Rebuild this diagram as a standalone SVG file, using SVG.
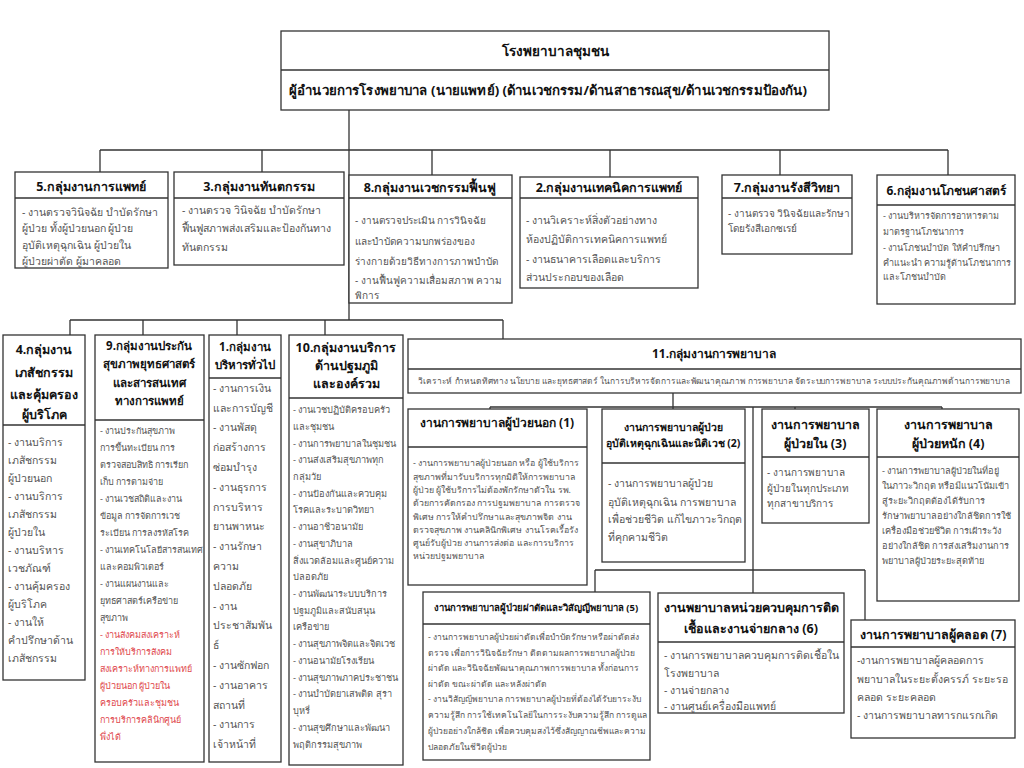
<svg xmlns="http://www.w3.org/2000/svg" width="1024" height="768" viewBox="0 0 1024 768">
<style>
.bx{fill:#fff;stroke:#333;stroke-width:1.3}
.dv{stroke:#333;stroke-width:1.3}
.cn{stroke:#333;stroke-width:1.3;fill:none}
text{font-family:Tahoma,"Noto Sans","DejaVu Sans",sans-serif}
.h{font-weight:bold;fill:#111;text-anchor:middle}
.b{fill:#555}
.r{fill:#e0474c}
</style>
<rect width="1024" height="768" fill="#fff"/>
<g id="connectors">
<path class="cn" d="M349 110V320M100 150H948M100 150V172M262 150V172M432 150V175M610 150V177M780 150V175M948 150V175"/>
<path class="cn" d="M70 320H503M70 320V335M143 320V335M237 320V335M325 320V335M503 320V340"/>
<path class="cn" d="M673 393V409M490 407H942M490 407V409M795 407V409M942 407V409M753 407V570M595 570H865M595 570V592M753 570V593M865 570V620"/>
</g>
<g id="top">
<rect class="bx" x="281" y="31" width="548" height="79"/>
<line class="dv" x1="281" y1="70" x2="829" y2="70"/>
<text class="h" x="555" y="56" font-size="13.5">โรงพยาบาลชุมชน</text>
<text class="h" x="548" y="95" font-size="13" textLength="518" lengthAdjust="spacingAndGlyphs">ผู้อำนวยการโรงพยาบาล (นายแพทย์) (ด้านเวชกรรม/ด้านสาธารณสุข/ด้านเวชกรรมป้องกัน)</text>
</g>
<g id="g5">
<rect class="bx" x="15" y="172" width="153" height="96"/>
<line class="dv" x1="15" y1="198" x2="168" y2="198"/>
<text class="h" x="91" y="191" font-size="12.5">5.กลุ่มงานการแพทย์</text>
<text class="b" font-size="10.5"><tspan x="22" y="216">- งานตรวจวินิจฉัย บำบัดรักษา</tspan><tspan x="22" y="232">ผู้ป่วย ทั้งผู้ป่วยนอก ผู้ป่วย</tspan><tspan x="22" y="249">อุบัติเหตุฉุกเฉิน ผู้ป่วยใน</tspan><tspan x="22" y="265">ผู้ป่วยผ่าตัด ผู้มาคลอด</tspan></text>
</g>
<g id="g3">
<rect class="bx" x="174" y="172" width="170" height="93"/>
<line class="dv" x1="174" y1="198" x2="344" y2="198"/>
<text class="h" x="259" y="191" font-size="12.5">3.กลุ่มงานทันตกรรม</text>
<text class="b" font-size="10.5"><tspan x="182" y="214">- งานตรวจ วินิจฉัย บำบัดรักษา</tspan><tspan x="182" y="232">ฟื้นฟูสภาพส่งเสริมและป้องกันทาง</tspan><tspan x="182" y="251">ทันตกรรม</tspan></text>
</g>
<g id="g8">
<rect class="bx" x="349" y="175" width="163" height="128"/>
<line class="dv" x1="349" y1="198" x2="512" y2="198"/>
<text class="h" x="430" y="192" font-size="12.5">8.กลุ่มงานเวชกรรมฟื้นฟู</text>
<text class="b" font-size="10"><tspan x="355" y="224">- งานตรวจประเมิน การวินิจฉัย</tspan><tspan x="355" y="245">และบำบัดความบกพร่องของ</tspan><tspan x="355" y="265">ร่างกายด้วยวิธีทางการภาพบำบัด</tspan><tspan x="355" y="284">- งานฟื้นฟูความเสื่อมสภาพ ความ</tspan><tspan x="355" y="299">พิการ</tspan></text>
</g>
<g id="g2">
<rect class="bx" x="520" y="177" width="178" height="111"/>
<line class="dv" x1="520" y1="198" x2="698" y2="198"/>
<text class="h" x="609" y="192" font-size="12.5">2.กลุ่มงานเทคนิคการแพทย์</text>
<text class="b" font-size="10.5"><tspan x="526" y="224">- งานวิเคราะห์สิ่งตัวอย่างทาง</tspan><tspan x="526" y="243">ห้องปฏิบัติการเทคนิคการแพทย์</tspan><tspan x="526" y="263">- งานธนาคารเลือดและบริการ</tspan><tspan x="526" y="281">ส่วนประกอบของเลือด</tspan></text>
</g>
<g id="g7">
<rect class="bx" x="722" y="175" width="130" height="79"/>
<line class="dv" x1="722" y1="198" x2="852" y2="198"/>
<text class="h" x="787" y="192" font-size="12.5">7.กลุ่มงานรังสีวิทยา</text>
<text class="b" font-size="10"><tspan x="728" y="217">- งานตรวจ วินิจฉัยและรักษา</tspan><tspan x="728" y="232">โดยรังสีเอกซเรย์</tspan></text>
</g>
<g id="g6">
<rect class="bx" x="877" y="175" width="138" height="129"/>
<line class="dv" x1="877" y1="205" x2="1015" y2="205"/>
<text class="h" x="946" y="195" font-size="12">6.กลุ่มงานโภชนศาสตร์</text>
<text class="b" font-size="9"><tspan x="883" y="219">- งานบริหารจัดการอาหารตาม</tspan><tspan x="883" y="235">มาตรฐานโภชนาการ</tspan><tspan x="883" y="251">- งานโภชนบำบัด ให้คำปรึกษา</tspan><tspan x="883" y="266">คำแนะนำ ความรู้ด้านโภชนาการ</tspan><tspan x="883" y="280">และโภชนบำบัด</tspan></text>
</g>
<g id="g4">
<rect class="bx" x="3" y="335" width="82" height="345"/>
<line class="dv" x1="3" y1="425" x2="85" y2="425"/>
<text class="h" font-size="12.5"><tspan x="44" y="354">4.กลุ่มงาน</tspan><tspan x="44" y="377">เภสัชกรรม</tspan><tspan x="44" y="399">และคุ้มครอง</tspan><tspan x="44" y="419">ผู้บริโภค</tspan></text>
<text class="b" font-size="10.5"><tspan x="8" y="446">- งานบริการ</tspan><tspan x="8" y="464">เภสัชกรรม</tspan><tspan x="8" y="482">ผู้ป่วยนอก</tspan><tspan x="8" y="500">- งานบริการ</tspan><tspan x="8" y="518">เภสัชกรรม</tspan><tspan x="8" y="536">ผู้ป่วยใน</tspan><tspan x="8" y="554">- งานบริหาร</tspan><tspan x="8" y="572">เวชภัณฑ์</tspan><tspan x="8" y="590">- งานคุ้มครอง</tspan><tspan x="8" y="608">ผู้บริโภค</tspan><tspan x="8" y="626">- งานให้</tspan><tspan x="8" y="644">คำปรึกษาด้าน</tspan><tspan x="8" y="662">เภสัชกรรม</tspan></text>
</g>
<g id="g9">
<rect class="bx" x="95" y="335" width="109" height="427"/>
<line class="dv" x1="95" y1="420" x2="204" y2="420"/>
<text class="h" font-size="11.5"><tspan x="149" y="350">9.กลุ่มงานประกัน</tspan><tspan x="149" y="368">สุขภาพยุทธศาสตร์</tspan><tspan x="149" y="387">และสารสนเทศ</tspan><tspan x="149" y="405">ทางการแพทย์</tspan></text>
<text class="b" font-size="9"><tspan x="100" y="434">- งานประกันสุขภาพ</tspan><tspan x="100" y="451">การขึ้นทะเบียน การ</tspan><tspan x="100" y="468">ตรวจสอบสิทธิ การเรียก</tspan><tspan x="100" y="485">เก็บ การตามจ่าย</tspan><tspan x="100" y="502">- งานเวชสถิติและงาน</tspan><tspan x="100" y="519">ข้อมูล การจัดการเวช</tspan><tspan x="100" y="536">ระเบียน การลงรหัสโรค</tspan><tspan x="100" y="553">- งานเทคโนโลยีสารสนเทศ</tspan><tspan x="100" y="570">และคอมพิวเตอร์</tspan><tspan x="100" y="587">- งานแผนงานและ</tspan><tspan x="100" y="604">ยุทธศาสตร์เครือข่าย</tspan><tspan x="100" y="621">สุขภาพ</tspan></text>
<text class="r" font-size="9"><tspan x="100" y="638">- งานสังคมสงเคราะห์</tspan><tspan x="100" y="655">การให้บริการสังคม</tspan><tspan x="100" y="672">สงเคราะห์ทางการแพทย์</tspan><tspan x="100" y="689">ผู้ป่วยนอก ผู้ป่วยใน</tspan><tspan x="100" y="706">ครอบครัวและชุมชน</tspan><tspan x="100" y="723">การบริการคลินิกศูนย์</tspan><tspan x="100" y="740">พึ่งได้</tspan></text>
</g>
<g id="g1">
<rect class="bx" x="209" y="335" width="72" height="427"/>
<line class="dv" x1="209" y1="378" x2="281" y2="378"/>
<text class="h" font-size="11.5"><tspan x="245" y="351">1.กลุ่มงาน</tspan><tspan x="245" y="369">บริหารทั่วไป</tspan></text>
<text class="b" font-size="10.5"><tspan x="213" y="392">- งานการเงิน</tspan><tspan x="213" y="412">และการบัญชี</tspan><tspan x="213" y="431">- งานพัสดุ</tspan><tspan x="213" y="451">ก่อสร้างการ</tspan><tspan x="213" y="471">ซ่อมบำรุง</tspan><tspan x="213" y="491">- งานธุรการ</tspan><tspan x="213" y="511">การบริหาร</tspan><tspan x="213" y="530">ยานพาหนะ</tspan><tspan x="213" y="550">- งานรักษา</tspan><tspan x="213" y="570">ความ</tspan><tspan x="213" y="590">ปลอดภัย</tspan><tspan x="213" y="610">- งาน</tspan><tspan x="213" y="629">ประชาสัมพัน</tspan><tspan x="213" y="649">ธ์</tspan><tspan x="213" y="669">- งานซักฟอก</tspan><tspan x="213" y="689">- งานอาคาร</tspan><tspan x="213" y="709">สถานที่</tspan><tspan x="213" y="728">- งานการ</tspan><tspan x="213" y="748">เจ้าหน้าที่</tspan></text>
</g>
<g id="g10">
<rect class="bx" x="289" y="335" width="114" height="430"/>
<line class="dv" x1="289" y1="398" x2="403" y2="398"/>
<text class="h" font-size="12.5"><tspan x="346" y="352">10.กลุ่มงานบริการ</tspan><tspan x="346" y="370">ด้านปฐมภูมิ</tspan><tspan x="346" y="388">และองค์รวม</tspan></text>
<text class="b" font-size="9.2"><tspan x="293" y="413">- งานเวชปฏิบัติครอบครัว</tspan><tspan x="293" y="430">และชุมชน</tspan><tspan x="293" y="447">- งานการพยาบาลในชุมชน</tspan><tspan x="293" y="463">- งานส่งเสริมสุขภาพทุก</tspan><tspan x="293" y="480">กลุ่มวัย</tspan><tspan x="293" y="497">- งานป้องกันและควบคุม</tspan><tspan x="293" y="513">โรคและระบาดวิทยา</tspan><tspan x="293" y="530">- งานอาชีวอนามัย</tspan><tspan x="293" y="547">- งานสุขาภิบาล</tspan><tspan x="293" y="564">สิ่งแวดล้อมและศูนย์ความ</tspan><tspan x="293" y="580">ปลอดภัย</tspan><tspan x="293" y="597">- งานพัฒนาระบบบริการ</tspan><tspan x="293" y="614">ปฐมภูมิและสนับสนุน</tspan><tspan x="293" y="630">เครือข่าย</tspan><tspan x="293" y="647">- งานสุขภาพจิตและจิตเวช</tspan><tspan x="293" y="664">- งานอนามัยโรงเรียน</tspan><tspan x="293" y="681">- งานสุขภาพภาคประชาชน</tspan><tspan x="293" y="697">- งานบำบัดยาเสพติด สุรา</tspan><tspan x="293" y="714">บุหรี่</tspan><tspan x="293" y="731">- งานสุขศึกษาและพัฒนา</tspan><tspan x="293" y="748">พฤติกรรมสุขภาพ</tspan></text>
</g>
<g id="g11">
<rect class="bx" x="408" y="339" width="613" height="54"/>
<line class="dv" x1="408" y1="369" x2="1021" y2="369"/>
<text class="h" x="714" y="358" font-size="12">11.กลุ่มงานการพยาบาล</text>
<text class="b" x="714" y="384" font-size="8.5" text-anchor="middle" textLength="592" lengthAdjust="spacingAndGlyphs">วิเคราะห์ กำหนดทิศทาง นโยบาย และยุทธศาสตร์ ในการบริหารจัดการและพัฒนาคุณภาพ การพยาบาล จัดระบบการพยาบาล ระบบประกันคุณภาพด้านการพยาบาล</text>
</g>
<g id="n1">
<rect class="bx" x="408" y="409" width="179" height="176"/>
<line class="dv" x1="408" y1="447" x2="587" y2="447"/>
<text class="h" x="497" y="427" font-size="12">งานการพยาบาลผู้ป่วยนอก (1)</text>
<text class="b" font-size="8.8"><tspan x="413" y="466">- งานการพยาบาลผู้ป่วยนอก หรือ ผู้ใช้บริการ</tspan><tspan x="413" y="480">สุขภาพที่มารับบริการทุกมิติให้การพยาบาล</tspan><tspan x="413" y="493">ผู้ป่วย ผู้ใช้บริการไม่ต้องพักรักษาตัวใน รพ.</tspan><tspan x="413" y="506">ด้วยการคัดกรอง การปฐมพยาบาล การตรวจ</tspan><tspan x="413" y="520">พิเศษ การให้คำปรึกษาและสุขภาพจิต งาน</tspan><tspan x="413" y="533">ตรวจสุขภาพ งานคลินิกพิเศษ งานโรคเรื้อรัง</tspan><tspan x="413" y="546">ศูนย์รับผู้ป่วย งานการส่งต่อ และการบริการ</tspan><tspan x="413" y="559">หน่วยปฐมพยาบาล</tspan></text>
</g>
<g id="n2">
<rect class="bx" x="602" y="409" width="143" height="153"/>
<line class="dv" x1="602" y1="463" x2="745" y2="463"/>
<text class="h" font-size="10.5"><tspan x="673" y="431">งานการพยาบาลผู้ป่วย</tspan><tspan x="673" y="447">อุบัติเหตุฉุกเฉินและนิติเวช (2)</tspan></text>
<text class="b" font-size="10.5"><tspan x="608" y="487">- งานการพยาบาลผู้ป่วย</tspan><tspan x="608" y="506">อุบัติเหตุฉุกเฉิน การพยาบาล</tspan><tspan x="608" y="523">เพื่อช่วยชีวิต แก้ไขภาวะวิกฤต</tspan><tspan x="608" y="541">ที่คุกคามชีวิต</tspan></text>
</g>
<g id="n3">
<rect class="bx" x="762" y="409" width="107" height="114"/>
<line class="dv" x1="762" y1="457" x2="869" y2="457"/>
<text class="h" font-size="12.5"><tspan x="815" y="429">งานการพยาบาล</tspan><tspan x="815" y="448">ผู้ป่วยใน (3)</tspan></text>
<text class="b" font-size="10"><tspan x="767" y="476">- งานการพยาบาล</tspan><tspan x="767" y="492">ผู้ป่วยในทุกประเภท</tspan><tspan x="767" y="507">ทุกสาขาบริการ</tspan></text>
</g>
<g id="n4">
<rect class="bx" x="877" y="409" width="142" height="192"/>
<line class="dv" x1="877" y1="457" x2="1019" y2="457"/>
<text class="h" font-size="12.5"><tspan x="948" y="429">งานการพยาบาล</tspan><tspan x="948" y="448">ผู้ป่วยหนัก (4)</tspan></text>
<text class="b" font-size="9.2"><tspan x="882" y="474">- งานการพยาบาลผู้ป่วยในที่อยู่</tspan><tspan x="882" y="489">ในภาวะวิกฤต หรือมีแนวโน้มเข้า</tspan><tspan x="882" y="504">สู่ระยะวิกฤตต้องได้รับการ</tspan><tspan x="882" y="519">รักษาพยาบาลอย่างใกล้ชิดการใช้</tspan><tspan x="882" y="534">เครื่องมือช่วยชีวิต การเฝ้าระวัง</tspan><tspan x="882" y="549">อย่างใกล้ชิด การส่งเสริมงานการ</tspan><tspan x="882" y="564">พยาบาลผู้ป่วยระยะสุดท้าย</tspan></text>
</g>
<g id="n5">
<rect class="bx" x="423" y="592" width="227" height="168"/>
<line class="dv" x1="423" y1="624" x2="650" y2="624"/>
<text class="h" x="536" y="611" font-size="9.5">งานการพยาบาลผู้ป่วยผ่าตัดและวิสัญญีพยาบาล (5)</text>
<text class="b" font-size="8.5"><tspan x="428" y="640">- งานการพยาบาลผู้ป่วยผ่าตัดเพื่อบำบัดรักษาหรือผ่าตัดส่ง</tspan><tspan x="428" y="656">ตรวจ เพื่อการวินิจฉัยรักษา ติดตามผลการพยาบาลผู้ป่วย</tspan><tspan x="428" y="671">ผ่าตัด และวินิจฉัยพัฒนาคุณภาพการพยาบาล ทั้งก่อนการ</tspan><tspan x="428" y="687">ผ่าตัด ขณะผ่าตัด และหลังผ่าตัด</tspan><tspan x="428" y="702">- งานวิสัญญีพยาบาล การพยาบาลผู้ป่วยที่ต้องได้รับยาระงับ</tspan><tspan x="428" y="718">ความรู้สึก การใช้เทคโนโลยีในการระงับความรู้สึก การดูแล</tspan><tspan x="428" y="734">ผู้ป่วยอย่างใกล้ชิด เพื่อควบคุมสงไว้ซึ่งสัญญาณชีพและความ</tspan><tspan x="428" y="750">ปลอดภัยในชีวิตผู้ป่วย</tspan></text>
</g>
<g id="n6">
<rect class="bx" x="658" y="593" width="186" height="120"/>
<line class="dv" x1="658" y1="642" x2="844" y2="642"/>
<text class="h" font-size="12.5"><tspan x="751" y="612">งานพยาบาลหน่วยควบคุมการติด</tspan><tspan x="751" y="633">เชื้อและงานจ่ายกลาง (6)</tspan></text>
<text class="b" font-size="10.5"><tspan x="664" y="659">- งานการพยาบาลควบคุมการติดเชื้อใน</tspan><tspan x="664" y="677">โรงพยาบาล</tspan><tspan x="664" y="694">- งานจ่ายกลาง</tspan><tspan x="664" y="710">- งานศูนย์เครื่องมือแพทย์</tspan></text>
</g>
<g id="n7">
<rect class="bx" x="851" y="620" width="164" height="118"/>
<line class="dv" x1="851" y1="647" x2="1015" y2="647"/>
<text class="h" x="933" y="639" font-size="12.5">งานการพยาบาลผู้คลอด (7)</text>
<text class="b" font-size="10.5"><tspan x="857" y="664">-งานการพยาบาลผู้คลอดการ</tspan><tspan x="857" y="683">พยาบาลในระยะตั้งครรภ์ ระยะรอ</tspan><tspan x="857" y="701">คลอด ระยะคลอด</tspan><tspan x="857" y="719">- งานการพยาบาลทารกแรกเกิด</tspan></text>
</g>
</svg>
